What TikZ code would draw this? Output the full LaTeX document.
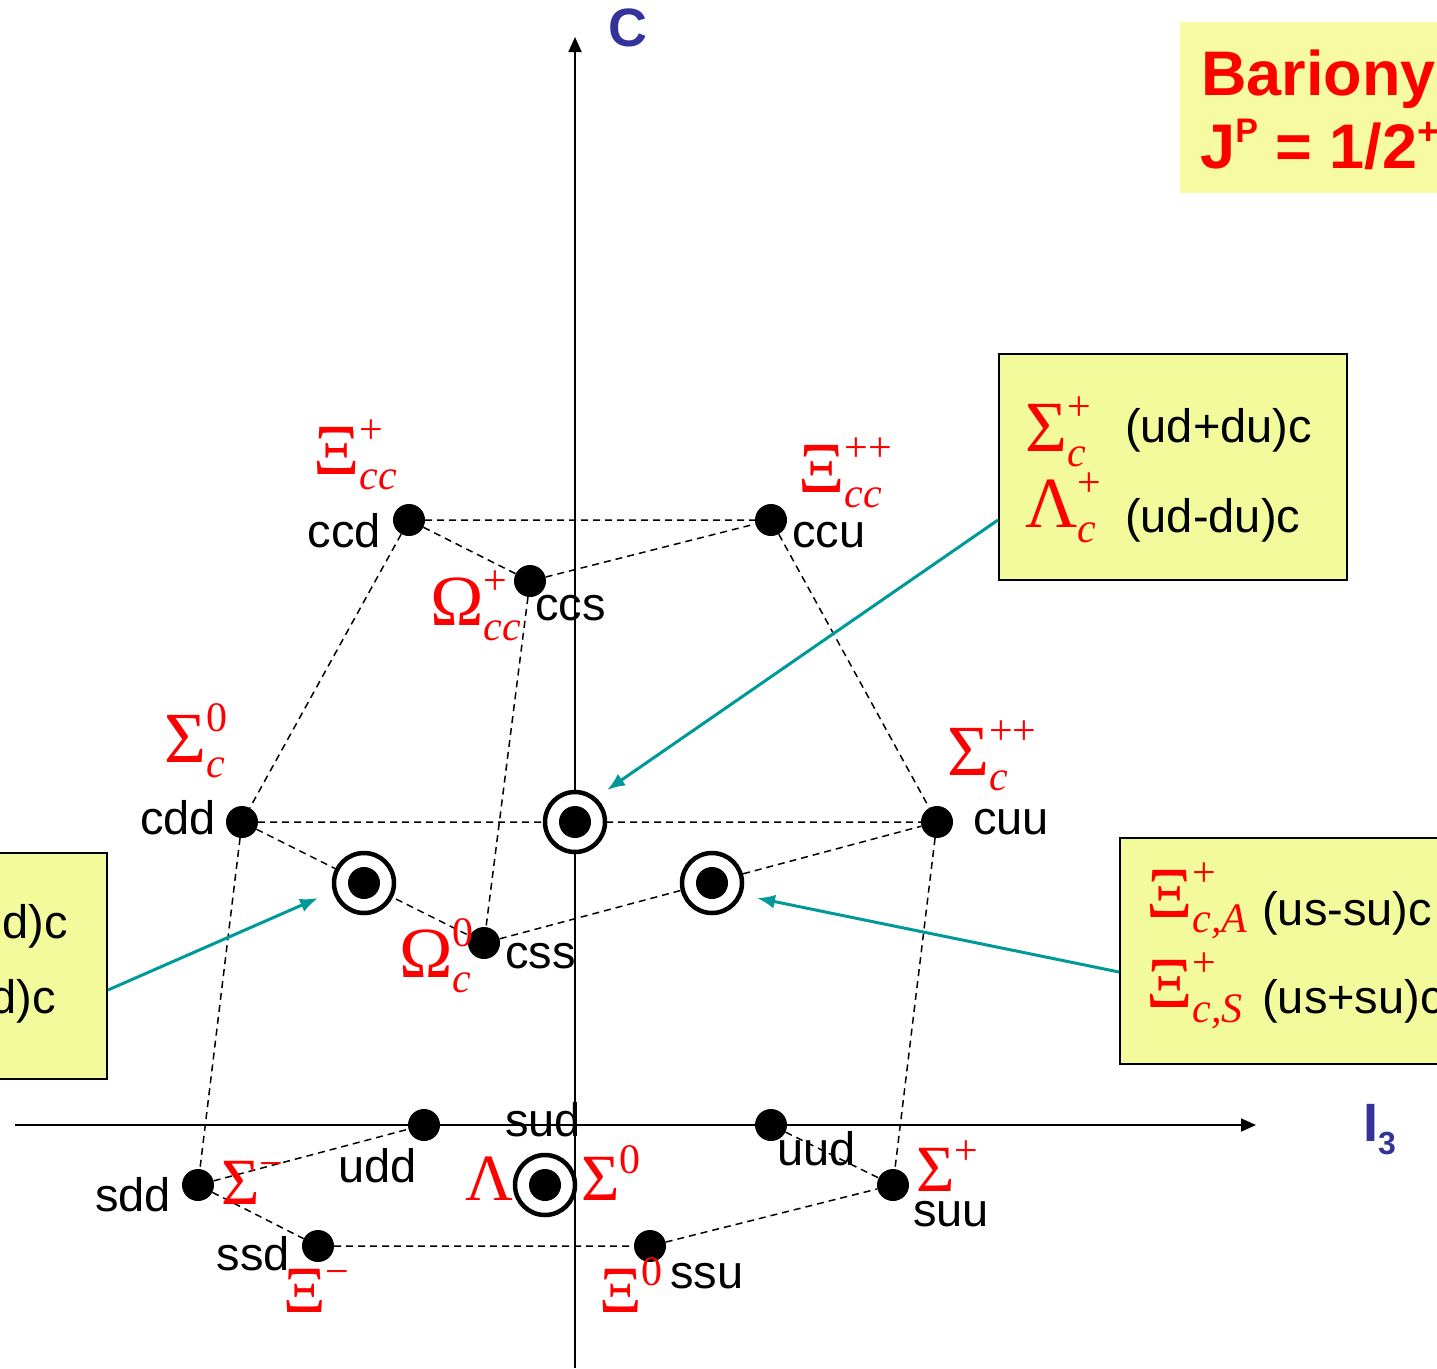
\RequirePackage{fix-cm}
\documentclass[tikz,border=0pt]{standalone}
\usepackage[no-math]{fontspec}
\setmainfont{Liberation Sans}
\newfontfamily\gk{Liberation Serif}
\usetikzlibrary{arrows.meta,backgrounds,calc}
\definecolor{axblue}{RGB}{51,51,153}
\definecolor{byellow}{RGB}{242,250,156}
\definecolor{tyellow}{RGB}{246,250,160}
\definecolor{arrteal}{RGB}{0,153,153}
\newcommand{\qf}{\fontsize{47}{56}\selectfont}
\newcommand{\gf}{\fontsize{63}{70}\selectfont}
\newcommand{\G}[1]{\mbox{\gk\fontsize{72}{72}\selectfont #1}}
\newcommand{\Gs}[1]{\mbox{\gk\fontsize{66}{66}\selectfont #1}}
\newcommand{\bsup}[1]{\mbox{\gk\fontsize{42}{42}\selectfont #1}}
\newcommand{\bsub}[1]{\mbox{\gk\itshape\fontsize{42}{42}\selectfont #1}}
\begin{document}
\begin{tikzpicture}[x=1pt,y=-1pt,
 dot/.style={circle,fill=black,inner sep=0pt,minimum size=32pt},
 ring/.style={circle,draw=black,line width=4.5pt,fill=white,inner sep=0pt,minimum size=60pt},
 dline/.style={line width=1.5pt,dash pattern=on 7pt off 5pt},
 axis/.style={line width=1.8pt,-{Triangle[length=15pt,width=13pt]}},
 quark/.style={font=\qf,inner sep=0pt},
 gr/.style={text=red,font=\gf,inner sep=0pt,anchor=base west},
 pbox/.style={draw=black,line width=2pt,fill=byellow,inner sep=0pt},
 parr/.style={arrteal,line width=3pt,-{Latex[length=18pt,width=14pt]}},
 axlab/.style={anchor=base west,inner sep=0pt,text=axblue,font=\fontsize{54}{60}\selectfont\bfseries},
]
\useasboundingbox (0,0) rectangle (1437,1368);
\clip (0,0) rectangle (1437,1368);

% boxes
\node[fill=tyellow,inner sep=0pt,minimum width=265pt,minimum height=171pt] (tbox) at (1312.5,107.5) {};
\node[pbox,minimum width=348pt,minimum height=226pt] (mbox) at (1173,467) {};
\node[pbox,minimum width=357pt,minimum height=226pt] (lbox) at (-71.5,966) {};
\node[pbox,minimum width=330pt,minimum height=226pt] (rbox) at (1285,951) {};

% rings
\node[ring] (rudc) at (575,822) {};
\node[ring] (rdsc) at (364,883) {};
\node[ring] (rusc) at (712,883) {};
\node[ring] (ruds) at (545,1185) {};

% dots
\node[dot] (ccd) at (409,520) {};
\node[dot] (ccu) at (771,520) {};
\node[dot] (ccs) at (530,581) {};
\node[dot] (cdd) at (242,822) {};
\node[dot] (udc) at (575,822) {};
\node[dot] (cuu) at (937,822) {};
\node[dot] (dsc) at (364,883) {};
\node[dot] (usc) at (712,883) {};
\node[dot] (css) at (484,943) {};
\node[dot] (udd) at (424,1125) {};
\node[dot] (uud) at (771,1125) {};
\node[dot] (sdd) at (198,1185) {};
\node[dot] (uds) at (545,1185) {};
\node[dot] (suu) at (893,1185) {};
\node[dot] (ssd) at (318,1246) {};
\node[dot] (ssu) at (650,1246) {};

\begin{scope}[on background layer]
 \coordinate (ybot) at (575,1368);
 \coordinate (ytop) at (575,37);
 \coordinate (xl) at (15,1125);
 \coordinate (xr) at (1256,1125);
 \draw[axis] (ybot) -- (ytop);
 \draw[axis] (xl) -- (xr);
 \draw[dline] (ccd) -- (ccu) (ccd) -- (ccs) (ccs) -- (ccu)
   (ccd) -- (cdd) (ccu) -- (cuu) (ccs) -- (css)
   (cdd) -- (cuu) (cdd) -- (css) (css) -- (cuu)
   (cdd) -- (sdd) (cuu) -- (suu)
   (sdd) -- (udd) (sdd) -- (ssd) (ssd) -- (ssu) (ssu) -- (suu) (uud) -- (suu);
\end{scope}

% quark labels
\node[quark,anchor=base east] (tccd) at (381,547) {ccd};
\node[quark,anchor=base west] (tccu) at (792,547) {ccu};
\node[quark,anchor=base west] (tccs) at (535,620) {ccs};
\node[quark,anchor=base east] (tcdd) at (216,834) {cdd};
\node[quark,anchor=base west] (tcuu) at (973,834) {cuu};
\node[quark,anchor=base west] (tcss) at (505,968) {css};
\node[quark,anchor=base west] (tsud) at (505,1136) {sud};
\node[quark,anchor=base west] (tudd) at (338,1182) {udd};
\node[quark,anchor=base west] (tuud) at (777,1165) {uud};
\node[quark,anchor=base east] (tsdd) at (171,1211) {sdd};
\node[quark,anchor=base east] (tssd) at (290,1270) {ssd};
\node[quark,anchor=base west] (tsuu) at (913,1226) {suu};
\node[quark,anchor=base west] (tssu) at (670,1288) {ssu};

% particle labels
\node[gr] (lXiccp) at (313,474) {$\G{Ξ}^{\bsup{+}}_{\bsub{cc}}$};
\node[gr] (lXiccpp) at (798,492) {$\G{Ξ}^{\bsup{++}}_{\bsub{cc}}$};
\node[gr] (lOmccp) at (430,625) {$\G{Ω}^{\bsup{+}}_{\bsub{cc}}$};
\node[gr] (lSigc0) at (164,762) {$\G{Σ}^{\bsup{0}}_{\bsub{c}}$};
\node[gr] (lSigcpp) at (947,775) {$\G{Σ}^{\bsup{++}}_{\bsub{c}}$};
\node[gr] (lOmc0) at (399,977) {$\G{Ω}^{\bsup{0}}_{\bsub{c}}$};
\node[gr] (lSigm) at (221,1204) {$\Gs{Σ}^{\bsup{−}}$};
\node[gr] (lXim) at (283,1312) {$\Gs{Ξ}^{\bsup{−}}$};
\node[gr] (lLam) at (465,1200) {$\Gs{Λ}$};
\node[gr] (lSig0) at (581,1200) {$\Gs{Σ}^{\bsup{0}}$};
\node[gr] (lSigp) at (916,1191) {$\Gs{Σ}^{\bsup{+}}$};
\node[gr] (lXi0) at (599,1312) {$\Gs{Ξ}^{\bsup{0}}$};

% box contents
\node[gr] (lSigcp) at (1025,451) {$\G{Σ}^{\bsup{+}}_{\bsub{c}}$};
\node[quark,anchor=base west] (tudpdu) at (1125,442) {(ud+du)c};
\node[gr] (lLamcp) at (1025,527) {$\G{Λ}^{\bsup{+}}_{\bsub{c}}$};
\node[quark,anchor=base west] (tudmdu) at (1125,532) {(ud-du)c};
\node[gr] (lXicA) at (1146,917) {$\G{Ξ}^{\bsup{+}}_{\bsub{c,A}}$};
\node[quark,anchor=base west] (tusmsu) at (1262,925) {(us-su)c};
\node[gr] (lXicS) at (1146,1007) {$\G{Ξ}^{\bsup{+}}_{\bsub{c,S}}$};
\node[quark,anchor=base west] (tuspsu) at (1262,1013) {(us+su)c};
\node[quark,anchor=base west] (tdspsd) at (-114,938) {(ds+sd)c};
\node[quark,anchor=base west] (tdsmsd) at (-114,1013) {(ds-sd)c};

% title box text
\node[anchor=base west,inner sep=0pt,text=red,font=\fontsize{63}{70}\selectfont\bfseries] (tbar) at (1201,95) {Bariony};
\node[anchor=base west,inner sep=0pt,text=red,font=\fontsize{63}{70}\selectfont\bfseries] (tjp) at (1200,168) {J\raisebox{26pt}{\fontsize{34}{40}\selectfont P} = 1/2\raisebox{24pt}{\fontsize{38}{40}\selectfont +}};

% axis labels
\node[axlab] (lC) at (608,46) {C};
\node[axlab] (lI) at (1363,1141) {I\raisebox{-13pt}{\fontsize{32}{36}\selectfont 3}};

% teal arrows
\coordinate (amt) at (607,790);
\coordinate (alt) at (318,898);
\coordinate (art) at (757,898);
\draw[parr] ($(mbox.west)+(0,53)$) -- (amt);
\draw[parr] ($(lbox.east)+(0,24)$) -- (alt);
\draw[parr] ($(rbox.west)+(0,21)$) -- (art);
\end{tikzpicture}
\end{document}
